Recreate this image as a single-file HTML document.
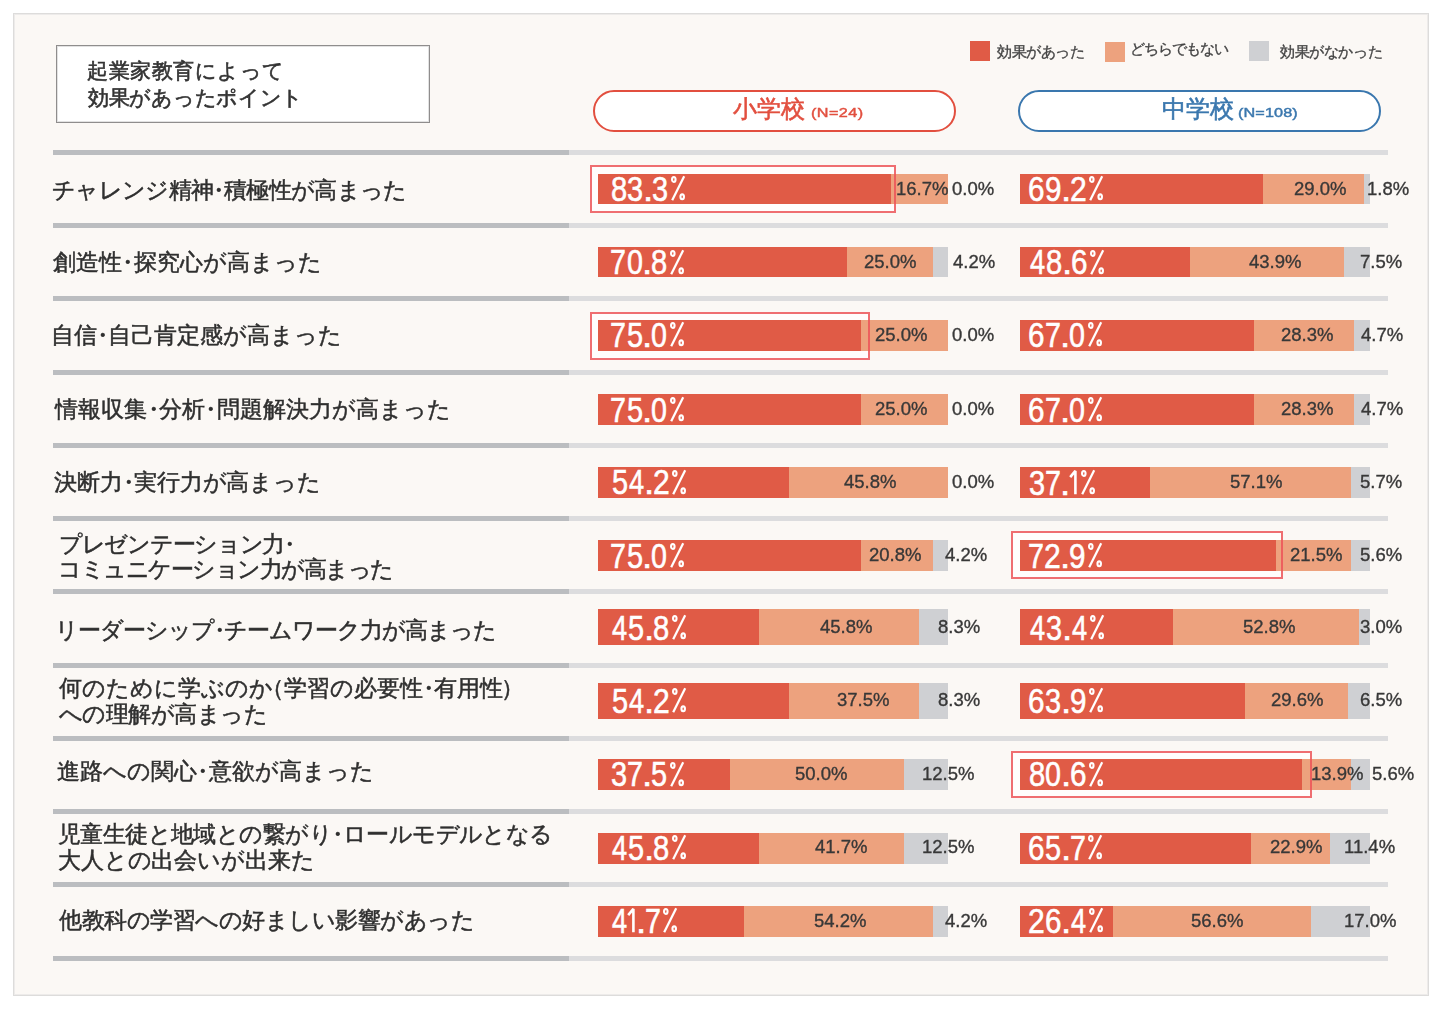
<!DOCTYPE html>
<html><head><meta charset="utf-8">
<style>
html,body{margin:0;padding:0;background:#fff;width:1440px;height:1011px;overflow:hidden}
body{position:relative;font-family:"Liberation Sans",sans-serif;color:#333;-webkit-font-smoothing:antialiased}
.lab,.sm,.tt,.legt,.pt,.pn{will-change:transform}
.frame{position:absolute;left:13px;top:13px;width:1416px;height:983px;box-sizing:border-box;border:1px solid #dddcdb;box-shadow:inset 0 0 0 1px rgba(228,227,226,0.6);background:#fbf8f5}
.a{position:absolute}
.title{left:55.5px;top:45px;width:374px;height:77.5px;box-sizing:border-box;border:1px solid #8f8d8d;box-shadow:inset 0 0 0 1px rgba(160,158,158,0.3);background:#fff}
.tt{position:absolute;left:88px;font-size:20.5px;line-height:28px;color:#333;white-space:nowrap;-webkit-text-stroke:0.6px #333}
.sep{position:absolute;height:5px;background:#dcdcde}
.sepd{position:absolute;height:5px;background:#bbbdc0}
.lab{position:absolute;font-size:23px;line-height:28px;height:28px;color:#2f2f2f;white-space:nowrap;-webkit-text-stroke:0.5px #2f2f2f}
.d{margin:0 -0.25em}
.p{margin-left:-0.55em}
.p2{margin-left:-0.1em}
.bar{position:absolute}
.big{position:absolute;color:#fff;font-size:35px;line-height:35px;height:35px;width:80px;white-space:nowrap;-webkit-text-stroke:0.6px #fff}
.big i{position:absolute;top:0;font-style:normal;transform-origin:0 0}
.sm{position:absolute;font-size:18.5px;line-height:20px;height:20px;color:#383838;white-space:nowrap;-webkit-text-stroke:0.35px #383838}
.hl{position:absolute;border:2px solid rgba(236,85,88,0.85);box-sizing:border-box}
.hlf{position:absolute;background:#fffdfc}
.pt{position:absolute;font-size:23.5px;line-height:30px;white-space:nowrap;-webkit-text-stroke-width:0.6px !important}
.pn{position:absolute;font-size:13.5px;line-height:20px;white-space:nowrap;transform:scaleX(1.2);transform-origin:0 0;-webkit-text-stroke-width:0.45px !important}
.pill{position:absolute;top:90px;height:42px;width:363px;box-sizing:border-box;border-radius:21px;background:#fff}
.leg{position:absolute;width:20px;height:20px}
.legt{position:absolute;font-size:14.5px;line-height:20px;color:#444;white-space:nowrap;-webkit-text-stroke:0.35px #444}
</style></head><body>
<div class="frame"></div>
<div class="a title"></div>
<div class="tt" id="T0" style="left:87.00px;top:57.20px;letter-spacing:0.512px">起業家教育によって</div>
<div class="tt" id="T1" style="left:88.00px;top:84.35px;letter-spacing:-0.278px">効果があったポイント</div>
<div class="leg" style="left:970px;top:41px;background:#e05b46"></div>
<div class="legt" id="G0" style="left:997.00px;top:42.45px;letter-spacing:-0.400px">効果があった</div>
<div class="leg" style="left:1105px;top:42px;background:#eda27e"></div>
<div class="legt" id="G1" style="left:1130.00px;top:39.40px;letter-spacing:-0.917px">どちらでもない</div>
<div class="leg" style="left:1249px;top:41px;background:#cfd0d3"></div>
<div class="legt" id="G2" style="left:1280.10px;top:42.45px;letter-spacing:-0.383px">効果がなかった</div>
<div class="pill" style="left:593px;border:2.5px solid #e24f3f"></div>
<div class="pt" id="P0" style="left:732.90px;top:94.40px;letter-spacing:0.000px;color:#e24f3f;-webkit-text-stroke:0.4px #e24f3f">小学校</div>
<div class="pn" id="P0n" style="left:811.40px;top:103.20px;letter-spacing:0.360px;color:#e24f3f;-webkit-text-stroke:0.2px #e24f3f">(N=24)</div>
<div class="pill" style="left:1018px;border:2.5px solid #3a77ae"></div>
<div class="pt" id="P1" style="left:1161.50px;top:94.40px;letter-spacing:-0.200px;color:#3a77ae;-webkit-text-stroke:0.4px #3a77ae">中学校</div>
<div class="pn" id="P1n" style="left:1238.20px;top:103.20px;letter-spacing:0.100px;color:#3a77ae;-webkit-text-stroke:0.2px #3a77ae">(N=108)</div>

<div class="sepd" style="left:53px;top:149.50px;width:516px"></div>
<div class="sep" style="left:569px;top:149.50px;width:819px"></div>
<div class="sepd" style="left:53px;top:222.80px;width:516px"></div>
<div class="sep" style="left:569px;top:222.80px;width:819px"></div>
<div class="sepd" style="left:53px;top:295.80px;width:516px"></div>
<div class="sep" style="left:569px;top:295.80px;width:819px"></div>
<div class="sepd" style="left:53px;top:369.50px;width:516px"></div>
<div class="sep" style="left:569px;top:369.50px;width:819px"></div>
<div class="sepd" style="left:53px;top:442.50px;width:516px"></div>
<div class="sep" style="left:569px;top:442.50px;width:819px"></div>
<div class="sepd" style="left:53px;top:515.70px;width:516px"></div>
<div class="sep" style="left:569px;top:515.70px;width:819px"></div>
<div class="sepd" style="left:53px;top:589.00px;width:516px"></div>
<div class="sep" style="left:569px;top:589.00px;width:819px"></div>
<div class="sepd" style="left:53px;top:662.50px;width:516px"></div>
<div class="sep" style="left:569px;top:662.50px;width:819px"></div>
<div class="sepd" style="left:53px;top:735.80px;width:516px"></div>
<div class="sep" style="left:569px;top:735.80px;width:819px"></div>
<div class="sepd" style="left:53px;top:808.80px;width:516px"></div>
<div class="sep" style="left:569px;top:808.80px;width:819px"></div>
<div class="sepd" style="left:53px;top:882.10px;width:516px"></div>
<div class="sep" style="left:569px;top:882.10px;width:819px"></div>
<div class="sepd" style="left:53px;top:955.50px;width:516px"></div>
<div class="sep" style="left:569px;top:955.50px;width:819px"></div>
<div class="lab" id="L0" style="left:52.40px;top:175.60px;letter-spacing:-0.693px">チャレンジ精神<span class="d">・</span>積極性が高まった</div>
<div class="hlf" style="left:590.20px;top:164.60px;width:306.30px;height:48.00px"></div>
<div class="bar" style="left:598.20px;top:173.75px;width:349.90px;height:30.65px;background:#eda27e"></div>
<div class="bar" style="left:598.20px;top:173.75px;width:292.50px;height:30.65px;background:#e05b46"></div>
<div class="hl" style="left:590.20px;top:164.60px;width:306.30px;height:48.00px"></div>
<div class="big" id="BE0" style="left:611.50px;top:170.87px"><i style="left:-0.97px;transform:scaleX(0.834)">8</i><i style="left:15.80px;transform:scaleX(0.826)">3</i><i style="left:31.34px;transform:scaleX(1.050)">.</i><i style="left:40.60px;transform:scaleX(0.826)">3</i><svg style="position:absolute;left:59.00px;top:5.4px;overflow:visible" width="14" height="24.3"><g fill="none" stroke="#fff" stroke-width="2.1"><ellipse cx="2.8" cy="3.5" rx="1.75" ry="2.45"/><ellipse cx="11.2" cy="20.8" rx="1.75" ry="2.45"/><path d="M1.2 24.2 L13.2 0.2" stroke-width="2.2"/></g></svg></div>
<div class="sm" id="OE0" style="left:896.20px;top:178.95px">16.7%</div>
<div class="sm" id="GE0" style="left:952.00px;top:178.95px">0.0%</div>
<div class="bar" style="left:1020.30px;top:173.75px;width:349.90px;height:30.65px;background:#cfd0d3"></div>
<div class="bar" style="left:1020.30px;top:173.75px;width:344.00px;height:30.65px;background:#eda27e"></div>
<div class="bar" style="left:1020.30px;top:173.75px;width:242.80px;height:30.65px;background:#e05b46"></div>
<div class="big" id="BM0" style="left:1029.50px;top:170.87px"><i style="left:-1.21px;transform:scaleX(0.848)">6</i><i style="left:15.51px;transform:scaleX(0.847)">9</i><i style="left:31.34px;transform:scaleX(1.050)">.</i><i style="left:40.19px;transform:scaleX(0.859)">2</i><svg style="position:absolute;left:59.00px;top:5.4px;overflow:visible" width="14" height="24.3"><g fill="none" stroke="#fff" stroke-width="2.1"><ellipse cx="2.8" cy="3.5" rx="1.75" ry="2.45"/><ellipse cx="11.2" cy="20.8" rx="1.75" ry="2.45"/><path d="M1.2 24.2 L13.2 0.2" stroke-width="2.2"/></g></svg></div>
<div class="sm" id="OM0" style="left:1294.20px;top:178.95px">29.0%</div>
<div class="sm" id="GM0" style="left:1367.00px;top:178.95px">1.8%</div>
<div class="lab" id="L1" style="left:53.00px;top:248.00px;letter-spacing:0.000px">創造性<span class="d">・</span>探究心が高まった</div>
<div class="bar" style="left:598.20px;top:247.20px;width:349.90px;height:30.10px;background:#cfd0d3"></div>
<div class="bar" style="left:598.20px;top:247.20px;width:335.30px;height:30.10px;background:#eda27e"></div>
<div class="bar" style="left:598.20px;top:247.20px;width:248.40px;height:30.10px;background:#e05b46"></div>
<div class="big" id="BE1" style="left:611.50px;top:244.25px"><i style="left:-1.17px;transform:scaleX(0.817)">7</i><i style="left:15.18px;transform:scaleX(0.819)">0</i><i style="left:30.74px;transform:scaleX(1.050)">.</i><i style="left:39.83px;transform:scaleX(0.834)">8</i><svg style="position:absolute;left:58.40px;top:5.4px;overflow:visible" width="14" height="24.3"><g fill="none" stroke="#fff" stroke-width="2.1"><ellipse cx="2.8" cy="3.5" rx="1.75" ry="2.45"/><ellipse cx="11.2" cy="20.8" rx="1.75" ry="2.45"/><path d="M1.2 24.2 L13.2 0.2" stroke-width="2.2"/></g></svg></div>
<div class="sm" id="OE1" style="left:864.00px;top:252.00px">25.0%</div>
<div class="sm" id="GE1" style="left:953.00px;top:252.00px">4.2%</div>
<div class="bar" style="left:1020.30px;top:247.20px;width:349.90px;height:30.10px;background:#cfd0d3"></div>
<div class="bar" style="left:1020.30px;top:247.20px;width:323.90px;height:30.10px;background:#eda27e"></div>
<div class="bar" style="left:1020.30px;top:247.20px;width:169.90px;height:30.10px;background:#e05b46"></div>
<div class="big" id="BM1" style="left:1030.50px;top:244.25px"><i style="left:-0.32px;transform:scaleX(0.777)">4</i><i style="left:15.63px;transform:scaleX(0.834)">8</i><i style="left:31.34px;transform:scaleX(1.050)">.</i><i style="left:40.19px;transform:scaleX(0.848)">6</i><svg style="position:absolute;left:59.00px;top:5.4px;overflow:visible" width="14" height="24.3"><g fill="none" stroke="#fff" stroke-width="2.1"><ellipse cx="2.8" cy="3.5" rx="1.75" ry="2.45"/><ellipse cx="11.2" cy="20.8" rx="1.75" ry="2.45"/><path d="M1.2 24.2 L13.2 0.2" stroke-width="2.2"/></g></svg></div>
<div class="sm" id="OM1" style="left:1249.40px;top:252.00px">43.9%</div>
<div class="sm" id="GM1" style="left:1360.40px;top:252.00px">7.5%</div>
<div class="lab" id="L2" style="left:51.40px;top:320.90px;letter-spacing:-0.067px">自信<span class="d">・</span>自己肯定感が高まった</div>
<div class="hlf" style="left:590.00px;top:311.50px;width:280.20px;height:48.00px"></div>
<div class="bar" style="left:598.20px;top:320.00px;width:349.80px;height:31.00px;background:#eda27e"></div>
<div class="bar" style="left:598.20px;top:320.00px;width:263.30px;height:31.00px;background:#e05b46"></div>
<div class="hl" style="left:590.00px;top:311.50px;width:280.20px;height:48.00px"></div>
<div class="big" id="BE2" style="left:611.50px;top:317.00px"><i style="left:-1.17px;transform:scaleX(0.817)">7</i><i style="left:15.14px;transform:scaleX(0.826)">5</i><i style="left:30.74px;transform:scaleX(1.050)">.</i><i style="left:39.98px;transform:scaleX(0.819)">0</i><svg style="position:absolute;left:58.40px;top:5.4px;overflow:visible" width="14" height="24.3"><g fill="none" stroke="#fff" stroke-width="2.1"><ellipse cx="2.8" cy="3.5" rx="1.75" ry="2.45"/><ellipse cx="11.2" cy="20.8" rx="1.75" ry="2.45"/><path d="M1.2 24.2 L13.2 0.2" stroke-width="2.2"/></g></svg></div>
<div class="sm" id="OE2" style="left:874.80px;top:324.50px">25.0%</div>
<div class="sm" id="GE2" style="left:952.00px;top:324.50px">0.0%</div>
<div class="bar" style="left:1020.30px;top:320.00px;width:349.90px;height:31.00px;background:#cfd0d3"></div>
<div class="bar" style="left:1020.30px;top:320.00px;width:333.80px;height:31.00px;background:#eda27e"></div>
<div class="bar" style="left:1020.30px;top:320.00px;width:234.10px;height:31.00px;background:#e05b46"></div>
<div class="big" id="BM2" style="left:1029.50px;top:317.00px"><i style="left:-1.21px;transform:scaleX(0.848)">6</i><i style="left:15.43px;transform:scaleX(0.817)">7</i><i style="left:30.74px;transform:scaleX(1.050)">.</i><i style="left:39.98px;transform:scaleX(0.819)">0</i><svg style="position:absolute;left:58.40px;top:5.4px;overflow:visible" width="14" height="24.3"><g fill="none" stroke="#fff" stroke-width="2.1"><ellipse cx="2.8" cy="3.5" rx="1.75" ry="2.45"/><ellipse cx="11.2" cy="20.8" rx="1.75" ry="2.45"/><path d="M1.2 24.2 L13.2 0.2" stroke-width="2.2"/></g></svg></div>
<div class="sm" id="OM2" style="left:1281.00px;top:324.50px">28.3%</div>
<div class="sm" id="GM2" style="left:1361.40px;top:324.50px">4.7%</div>
<div class="lab" id="L3" style="left:55.40px;top:395.10px;letter-spacing:0.082px">情報収集<span class="d">・</span>分析<span class="d">・</span>問題解決力が高まった</div>
<div class="bar" style="left:598.20px;top:394.20px;width:349.80px;height:30.80px;background:#eda27e"></div>
<div class="bar" style="left:598.20px;top:394.20px;width:263.30px;height:30.80px;background:#e05b46"></div>
<div class="big" id="BE3" style="left:611.50px;top:391.50px"><i style="left:-1.17px;transform:scaleX(0.817)">7</i><i style="left:15.14px;transform:scaleX(0.826)">5</i><i style="left:30.74px;transform:scaleX(1.050)">.</i><i style="left:39.98px;transform:scaleX(0.819)">0</i><svg style="position:absolute;left:58.40px;top:5.4px;overflow:visible" width="14" height="24.3"><g fill="none" stroke="#fff" stroke-width="2.1"><ellipse cx="2.8" cy="3.5" rx="1.75" ry="2.45"/><ellipse cx="11.2" cy="20.8" rx="1.75" ry="2.45"/><path d="M1.2 24.2 L13.2 0.2" stroke-width="2.2"/></g></svg></div>
<div class="sm" id="OE3" style="left:875.20px;top:399.10px">25.0%</div>
<div class="sm" id="GE3" style="left:952.00px;top:399.10px">0.0%</div>
<div class="bar" style="left:1020.30px;top:394.20px;width:349.90px;height:30.80px;background:#cfd0d3"></div>
<div class="bar" style="left:1020.30px;top:394.20px;width:333.80px;height:30.80px;background:#eda27e"></div>
<div class="bar" style="left:1020.30px;top:394.20px;width:234.10px;height:30.80px;background:#e05b46"></div>
<div class="big" id="BM3" style="left:1029.50px;top:391.50px"><i style="left:-1.21px;transform:scaleX(0.848)">6</i><i style="left:15.43px;transform:scaleX(0.817)">7</i><i style="left:30.74px;transform:scaleX(1.050)">.</i><i style="left:39.98px;transform:scaleX(0.819)">0</i><svg style="position:absolute;left:58.40px;top:5.4px;overflow:visible" width="14" height="24.3"><g fill="none" stroke="#fff" stroke-width="2.1"><ellipse cx="2.8" cy="3.5" rx="1.75" ry="2.45"/><ellipse cx="11.2" cy="20.8" rx="1.75" ry="2.45"/><path d="M1.2 24.2 L13.2 0.2" stroke-width="2.2"/></g></svg></div>
<div class="sm" id="OM3" style="left:1281.00px;top:399.10px">28.3%</div>
<div class="sm" id="GM3" style="left:1361.40px;top:399.10px">4.7%</div>
<div class="lab" id="L4" style="left:53.60px;top:468.30px;letter-spacing:-0.145px">決断力<span class="d">・</span>実行力が高まった</div>
<div class="bar" style="left:598.20px;top:467.30px;width:349.90px;height:30.70px;background:#eda27e"></div>
<div class="bar" style="left:598.20px;top:467.30px;width:190.40px;height:30.70px;background:#e05b46"></div>
<div class="big" id="BE4" style="left:612.50px;top:464.25px"><i style="left:-0.86px;transform:scaleX(0.826)">5</i><i style="left:16.28px;transform:scaleX(0.777)">4</i><i style="left:31.34px;transform:scaleX(1.050)">.</i><i style="left:40.19px;transform:scaleX(0.859)">2</i><svg style="position:absolute;left:59.00px;top:5.4px;overflow:visible" width="14" height="24.3"><g fill="none" stroke="#fff" stroke-width="2.1"><ellipse cx="2.8" cy="3.5" rx="1.75" ry="2.45"/><ellipse cx="11.2" cy="20.8" rx="1.75" ry="2.45"/><path d="M1.2 24.2 L13.2 0.2" stroke-width="2.2"/></g></svg></div>
<div class="sm" id="OE4" style="left:844.00px;top:472.40px">45.8%</div>
<div class="sm" id="GE4" style="left:952.00px;top:472.40px">0.0%</div>
<div class="bar" style="left:1020.30px;top:467.30px;width:349.90px;height:30.70px;background:#cfd0d3"></div>
<div class="bar" style="left:1020.30px;top:467.30px;width:330.30px;height:30.70px;background:#eda27e"></div>
<div class="bar" style="left:1020.30px;top:467.30px;width:129.70px;height:30.70px;background:#e05b46"></div>
<div class="big" id="BM4" style="left:1029.50px;top:464.75px"><i style="left:-0.80px;transform:scaleX(0.826)">3</i><i style="left:15.43px;transform:scaleX(0.817)">7</i><i style="left:30.74px;transform:scaleX(1.050)">.</i><svg style="position:absolute;left:40.80px;top:5.4px;overflow:visible" width="7" height="24.3"><path d="M0.2 7.2 L5.4 0.9 L5.4 24.3" fill="none" stroke="#fff" stroke-width="2.6" stroke-linejoin="bevel"/></svg><svg style="position:absolute;left:51.20px;top:5.4px;overflow:visible" width="14" height="24.3"><g fill="none" stroke="#fff" stroke-width="2.1"><ellipse cx="2.8" cy="3.5" rx="1.75" ry="2.45"/><ellipse cx="11.2" cy="20.8" rx="1.75" ry="2.45"/><path d="M1.2 24.2 L13.2 0.2" stroke-width="2.2"/></g></svg></div>
<div class="sm" id="OM4" style="left:1230.00px;top:472.40px">57.1%</div>
<div class="sm" id="GM4" style="left:1360.40px;top:472.40px">5.7%</div>
<div class="lab" id="L5a" style="left:58.60px;top:530.40px;letter-spacing:-1.280px">プレゼンテーション力<span class="d">・</span></div>
<div class="lab" id="L5b" style="left:57.60px;top:555.40px;letter-spacing:-1.471px">コミュニケーション力が高まった</div>
<div class="bar" style="left:598.20px;top:540.30px;width:349.90px;height:31.00px;background:#cfd0d3"></div>
<div class="bar" style="left:598.20px;top:540.30px;width:335.30px;height:31.00px;background:#eda27e"></div>
<div class="bar" style="left:598.20px;top:540.30px;width:263.30px;height:31.00px;background:#e05b46"></div>
<div class="big" id="BE5" style="left:611.50px;top:537.50px"><i style="left:-1.17px;transform:scaleX(0.817)">7</i><i style="left:15.14px;transform:scaleX(0.826)">5</i><i style="left:30.74px;transform:scaleX(1.050)">.</i><i style="left:39.98px;transform:scaleX(0.819)">0</i><svg style="position:absolute;left:58.40px;top:5.4px;overflow:visible" width="14" height="24.3"><g fill="none" stroke="#fff" stroke-width="2.1"><ellipse cx="2.8" cy="3.5" rx="1.75" ry="2.45"/><ellipse cx="11.2" cy="20.8" rx="1.75" ry="2.45"/><path d="M1.2 24.2 L13.2 0.2" stroke-width="2.2"/></g></svg></div>
<div class="sm" id="OE5" style="left:869.20px;top:545.30px">20.8%</div>
<div class="sm" id="GE5" style="left:945.20px;top:545.30px">4.2%</div>
<div class="hlf" style="left:1011.40px;top:531.00px;width:272.10px;height:47.80px"></div>
<div class="bar" style="left:1020.30px;top:540.30px;width:349.90px;height:31.00px;background:#cfd0d3"></div>
<div class="bar" style="left:1020.30px;top:540.30px;width:330.30px;height:31.00px;background:#eda27e"></div>
<div class="bar" style="left:1020.30px;top:540.30px;width:256.00px;height:31.00px;background:#e05b46"></div>
<div class="hl" style="left:1011.40px;top:531.00px;width:272.10px;height:47.80px"></div>
<div class="big" id="BM5" style="left:1029.50px;top:537.50px"><i style="left:-1.17px;transform:scaleX(0.817)">7</i><i style="left:14.79px;transform:scaleX(0.859)">2</i><i style="left:30.74px;transform:scaleX(1.050)">.</i><i style="left:39.71px;transform:scaleX(0.847)">9</i><svg style="position:absolute;left:58.40px;top:5.4px;overflow:visible" width="14" height="24.3"><g fill="none" stroke="#fff" stroke-width="2.1"><ellipse cx="2.8" cy="3.5" rx="1.75" ry="2.45"/><ellipse cx="11.2" cy="20.8" rx="1.75" ry="2.45"/><path d="M1.2 24.2 L13.2 0.2" stroke-width="2.2"/></g></svg></div>
<div class="sm" id="OM5" style="left:1289.80px;top:545.30px">21.5%</div>
<div class="sm" id="GM5" style="left:1360.40px;top:545.30px">5.6%</div>
<div class="lab" id="L6" style="left:55.20px;top:615.65px;letter-spacing:-1.037px">リーダーシップ<span class="d">・</span>チームワーク力が高まった</div>
<div class="bar" style="left:598.20px;top:609.30px;width:349.90px;height:36.20px;background:#cfd0d3"></div>
<div class="bar" style="left:598.20px;top:609.30px;width:321.30px;height:36.20px;background:#eda27e"></div>
<div class="bar" style="left:598.20px;top:609.30px;width:161.20px;height:36.20px;background:#e05b46"></div>
<div class="big" id="BE6" style="left:612.50px;top:609.50px"><i style="left:-0.32px;transform:scaleX(0.777)">4</i><i style="left:15.74px;transform:scaleX(0.826)">5</i><i style="left:31.34px;transform:scaleX(1.050)">.</i><i style="left:40.43px;transform:scaleX(0.834)">8</i><svg style="position:absolute;left:59.00px;top:5.4px;overflow:visible" width="14" height="24.3"><g fill="none" stroke="#fff" stroke-width="2.1"><ellipse cx="2.8" cy="3.5" rx="1.75" ry="2.45"/><ellipse cx="11.2" cy="20.8" rx="1.75" ry="2.45"/><path d="M1.2 24.2 L13.2 0.2" stroke-width="2.2"/></g></svg></div>
<div class="sm" id="OE6" style="left:819.80px;top:616.90px">45.8%</div>
<div class="sm" id="GE6" style="left:938.40px;top:616.90px">8.3%</div>
<div class="bar" style="left:1020.30px;top:609.30px;width:349.90px;height:36.20px;background:#cfd0d3"></div>
<div class="bar" style="left:1020.30px;top:609.30px;width:338.80px;height:36.20px;background:#eda27e"></div>
<div class="bar" style="left:1020.30px;top:609.30px;width:152.40px;height:36.20px;background:#e05b46"></div>
<div class="big" id="BM6" style="left:1030.50px;top:609.50px"><i style="left:-0.32px;transform:scaleX(0.777)">4</i><i style="left:15.80px;transform:scaleX(0.826)">3</i><i style="left:31.34px;transform:scaleX(1.050)">.</i><i style="left:41.08px;transform:scaleX(0.777)">4</i><svg style="position:absolute;left:59.00px;top:5.4px;overflow:visible" width="14" height="24.3"><g fill="none" stroke="#fff" stroke-width="2.1"><ellipse cx="2.8" cy="3.5" rx="1.75" ry="2.45"/><ellipse cx="11.2" cy="20.8" rx="1.75" ry="2.45"/><path d="M1.2 24.2 L13.2 0.2" stroke-width="2.2"/></g></svg></div>
<div class="sm" id="OM6" style="left:1243.20px;top:616.90px">52.8%</div>
<div class="sm" id="GM6" style="left:1360.40px;top:616.90px">3.0%</div>
<div class="lab" id="L7a" style="left:59.00px;top:673.60px;letter-spacing:0.025px">何のために学ぶのか<span class="p">（</span>学習の必要性<span class="d">・</span>有用性<span class="p2">）</span></div>
<div class="lab" id="L7b" style="left:59.00px;top:699.65px;letter-spacing:-0.562px">への理解が高まった</div>
<div class="bar" style="left:598.20px;top:682.60px;width:349.90px;height:36.20px;background:#cfd0d3"></div>
<div class="bar" style="left:598.20px;top:682.60px;width:321.30px;height:36.20px;background:#eda27e"></div>
<div class="bar" style="left:598.20px;top:682.60px;width:190.40px;height:36.20px;background:#e05b46"></div>
<div class="big" id="BE7" style="left:612.50px;top:682.50px"><i style="left:-0.86px;transform:scaleX(0.826)">5</i><i style="left:16.28px;transform:scaleX(0.777)">4</i><i style="left:31.34px;transform:scaleX(1.050)">.</i><i style="left:40.19px;transform:scaleX(0.859)">2</i><svg style="position:absolute;left:59.00px;top:5.4px;overflow:visible" width="14" height="24.3"><g fill="none" stroke="#fff" stroke-width="2.1"><ellipse cx="2.8" cy="3.5" rx="1.75" ry="2.45"/><ellipse cx="11.2" cy="20.8" rx="1.75" ry="2.45"/><path d="M1.2 24.2 L13.2 0.2" stroke-width="2.2"/></g></svg></div>
<div class="sm" id="OE7" style="left:837.20px;top:689.70px">37.5%</div>
<div class="sm" id="GE7" style="left:938.40px;top:689.70px">8.3%</div>
<div class="bar" style="left:1020.30px;top:682.60px;width:349.90px;height:36.20px;background:#cfd0d3"></div>
<div class="bar" style="left:1020.30px;top:682.60px;width:327.50px;height:36.20px;background:#eda27e"></div>
<div class="bar" style="left:1020.30px;top:682.60px;width:224.40px;height:36.20px;background:#e05b46"></div>
<div class="big" id="BM7" style="left:1029.50px;top:682.50px"><i style="left:-1.21px;transform:scaleX(0.848)">6</i><i style="left:15.80px;transform:scaleX(0.826)">3</i><i style="left:31.34px;transform:scaleX(1.050)">.</i><i style="left:40.31px;transform:scaleX(0.847)">9</i><svg style="position:absolute;left:59.00px;top:5.4px;overflow:visible" width="14" height="24.3"><g fill="none" stroke="#fff" stroke-width="2.1"><ellipse cx="2.8" cy="3.5" rx="1.75" ry="2.45"/><ellipse cx="11.2" cy="20.8" rx="1.75" ry="2.45"/><path d="M1.2 24.2 L13.2 0.2" stroke-width="2.2"/></g></svg></div>
<div class="sm" id="OM7" style="left:1271.20px;top:689.70px">29.6%</div>
<div class="sm" id="GM7" style="left:1360.40px;top:689.70px">6.5%</div>
<div class="lab" id="L8" style="left:56.80px;top:757.15px;letter-spacing:0.015px">進路への関心<span class="d">・</span>意欲が高まった</div>
<div class="bar" style="left:598.20px;top:759.30px;width:349.90px;height:30.90px;background:#cfd0d3"></div>
<div class="bar" style="left:598.20px;top:759.30px;width:306.20px;height:30.90px;background:#eda27e"></div>
<div class="bar" style="left:598.20px;top:759.30px;width:132.00px;height:30.90px;background:#e05b46"></div>
<div class="big" id="BE8" style="left:611.50px;top:756.25px"><i style="left:-0.80px;transform:scaleX(0.826)">3</i><i style="left:15.43px;transform:scaleX(0.817)">7</i><i style="left:30.74px;transform:scaleX(1.050)">.</i><i style="left:39.94px;transform:scaleX(0.826)">5</i><svg style="position:absolute;left:58.40px;top:5.4px;overflow:visible" width="14" height="24.3"><g fill="none" stroke="#fff" stroke-width="2.1"><ellipse cx="2.8" cy="3.5" rx="1.75" ry="2.45"/><ellipse cx="11.2" cy="20.8" rx="1.75" ry="2.45"/><path d="M1.2 24.2 L13.2 0.2" stroke-width="2.2"/></g></svg></div>
<div class="sm" id="OE8" style="left:795.00px;top:764.00px">50.0%</div>
<div class="sm" id="GE8" style="left:922.40px;top:764.00px">12.5%</div>
<div class="hlf" style="left:1011.40px;top:750.50px;width:300.70px;height:47.70px"></div>
<div class="bar" style="left:1020.30px;top:759.30px;width:349.90px;height:30.90px;background:#cfd0d3"></div>
<div class="bar" style="left:1020.30px;top:759.30px;width:331.20px;height:30.90px;background:#eda27e"></div>
<div class="bar" style="left:1020.30px;top:759.30px;width:282.20px;height:30.90px;background:#e05b46"></div>
<div class="hl" style="left:1011.40px;top:750.50px;width:300.70px;height:47.70px"></div>
<div class="big" id="BM8" style="left:1029.50px;top:756.25px"><i style="left:-0.97px;transform:scaleX(0.834)">8</i><i style="left:15.78px;transform:scaleX(0.819)">0</i><i style="left:31.34px;transform:scaleX(1.050)">.</i><i style="left:40.19px;transform:scaleX(0.848)">6</i><svg style="position:absolute;left:59.00px;top:5.4px;overflow:visible" width="14" height="24.3"><g fill="none" stroke="#fff" stroke-width="2.1"><ellipse cx="2.8" cy="3.5" rx="1.75" ry="2.45"/><ellipse cx="11.2" cy="20.8" rx="1.75" ry="2.45"/><path d="M1.2 24.2 L13.2 0.2" stroke-width="2.2"/></g></svg></div>
<div class="sm" id="OM8" style="left:1311.20px;top:764.00px">13.9%</div>
<div class="sm" id="GM8" style="left:1372.00px;top:764.00px">5.6%</div>
<div class="lab" id="L9a" style="left:57.50px;top:820.15px;letter-spacing:-0.586px">児童生徒と地域との繋がり<span class="d">・</span>ロールモデルとなる</div>
<div class="lab" id="L9b" style="left:57.50px;top:845.90px;letter-spacing:-0.150px">大人との出会いが出来た</div>
<div class="bar" style="left:598.20px;top:832.50px;width:349.90px;height:31.20px;background:#cfd0d3"></div>
<div class="bar" style="left:598.20px;top:832.50px;width:306.20px;height:31.20px;background:#eda27e"></div>
<div class="bar" style="left:598.20px;top:832.50px;width:161.20px;height:31.20px;background:#e05b46"></div>
<div class="big" id="BE9" style="left:612.50px;top:830.00px"><i style="left:-0.32px;transform:scaleX(0.777)">4</i><i style="left:15.74px;transform:scaleX(0.826)">5</i><i style="left:31.34px;transform:scaleX(1.050)">.</i><i style="left:40.43px;transform:scaleX(0.834)">8</i><svg style="position:absolute;left:59.00px;top:5.4px;overflow:visible" width="14" height="24.3"><g fill="none" stroke="#fff" stroke-width="2.1"><ellipse cx="2.8" cy="3.5" rx="1.75" ry="2.45"/><ellipse cx="11.2" cy="20.8" rx="1.75" ry="2.45"/><path d="M1.2 24.2 L13.2 0.2" stroke-width="2.2"/></g></svg></div>
<div class="sm" id="OE9" style="left:814.80px;top:837.10px">41.7%</div>
<div class="sm" id="GE9" style="left:922.40px;top:837.10px">12.5%</div>
<div class="bar" style="left:1020.30px;top:832.50px;width:349.90px;height:31.20px;background:#cfd0d3"></div>
<div class="bar" style="left:1020.30px;top:832.50px;width:309.90px;height:31.20px;background:#eda27e"></div>
<div class="bar" style="left:1020.30px;top:832.50px;width:230.60px;height:31.20px;background:#e05b46"></div>
<div class="big" id="BM9" style="left:1029.50px;top:830.00px"><i style="left:-1.21px;transform:scaleX(0.848)">6</i><i style="left:15.74px;transform:scaleX(0.826)">5</i><i style="left:31.34px;transform:scaleX(1.050)">.</i><i style="left:40.23px;transform:scaleX(0.817)">7</i><svg style="position:absolute;left:58.40px;top:5.4px;overflow:visible" width="14" height="24.3"><g fill="none" stroke="#fff" stroke-width="2.1"><ellipse cx="2.8" cy="3.5" rx="1.75" ry="2.45"/><ellipse cx="11.2" cy="20.8" rx="1.75" ry="2.45"/><path d="M1.2 24.2 L13.2 0.2" stroke-width="2.2"/></g></svg></div>
<div class="sm" id="OM9" style="left:1270.40px;top:837.10px">22.9%</div>
<div class="sm" id="GM9" style="left:1344.20px;top:837.10px">11.4%</div>
<div class="lab" id="L10" style="left:58.50px;top:906.35px;letter-spacing:-0.500px">他教科の学習への好ましい影響があった</div>
<div class="bar" style="left:598.20px;top:905.50px;width:349.90px;height:31.00px;background:#cfd0d3"></div>
<div class="bar" style="left:598.20px;top:905.50px;width:334.80px;height:31.00px;background:#eda27e"></div>
<div class="bar" style="left:598.20px;top:905.50px;width:146.30px;height:31.00px;background:#e05b46"></div>
<div class="big" id="BE10" style="left:612.50px;top:903.00px"><i style="left:-0.32px;transform:scaleX(0.777)">4</i><svg style="position:absolute;left:15.80px;top:5.4px;overflow:visible" width="7" height="24.3"><path d="M0.2 7.2 L5.4 0.9 L5.4 24.3" fill="none" stroke="#fff" stroke-width="2.6" stroke-linejoin="bevel"/></svg><i style="left:23.34px;transform:scaleX(1.050)">.</i><i style="left:32.23px;transform:scaleX(0.817)">7</i><svg style="position:absolute;left:50.40px;top:5.4px;overflow:visible" width="14" height="24.3"><g fill="none" stroke="#fff" stroke-width="2.1"><ellipse cx="2.8" cy="3.5" rx="1.75" ry="2.45"/><ellipse cx="11.2" cy="20.8" rx="1.75" ry="2.45"/><path d="M1.2 24.2 L13.2 0.2" stroke-width="2.2"/></g></svg></div>
<div class="sm" id="OE10" style="left:814.40px;top:910.50px">54.2%</div>
<div class="sm" id="GE10" style="left:945.20px;top:910.50px">4.2%</div>
<div class="bar" style="left:1020.30px;top:905.50px;width:349.90px;height:31.00px;background:#cfd0d3"></div>
<div class="bar" style="left:1020.30px;top:905.50px;width:290.90px;height:31.00px;background:#eda27e"></div>
<div class="bar" style="left:1020.30px;top:905.50px;width:93.20px;height:31.00px;background:#e05b46"></div>
<div class="big" id="BM10" style="left:1029.50px;top:902.50px"><i style="left:-1.21px;transform:scaleX(0.859)">2</i><i style="left:15.39px;transform:scaleX(0.848)">6</i><i style="left:31.34px;transform:scaleX(1.050)">.</i><i style="left:41.08px;transform:scaleX(0.777)">4</i><svg style="position:absolute;left:59.00px;top:5.4px;overflow:visible" width="14" height="24.3"><g fill="none" stroke="#fff" stroke-width="2.1"><ellipse cx="2.8" cy="3.5" rx="1.75" ry="2.45"/><ellipse cx="11.2" cy="20.8" rx="1.75" ry="2.45"/><path d="M1.2 24.2 L13.2 0.2" stroke-width="2.2"/></g></svg></div>
<div class="sm" id="OM10" style="left:1191.20px;top:910.50px">56.6%</div>
<div class="sm" id="GM10" style="left:1344.20px;top:910.50px">17.0%</div>
</body></html>
